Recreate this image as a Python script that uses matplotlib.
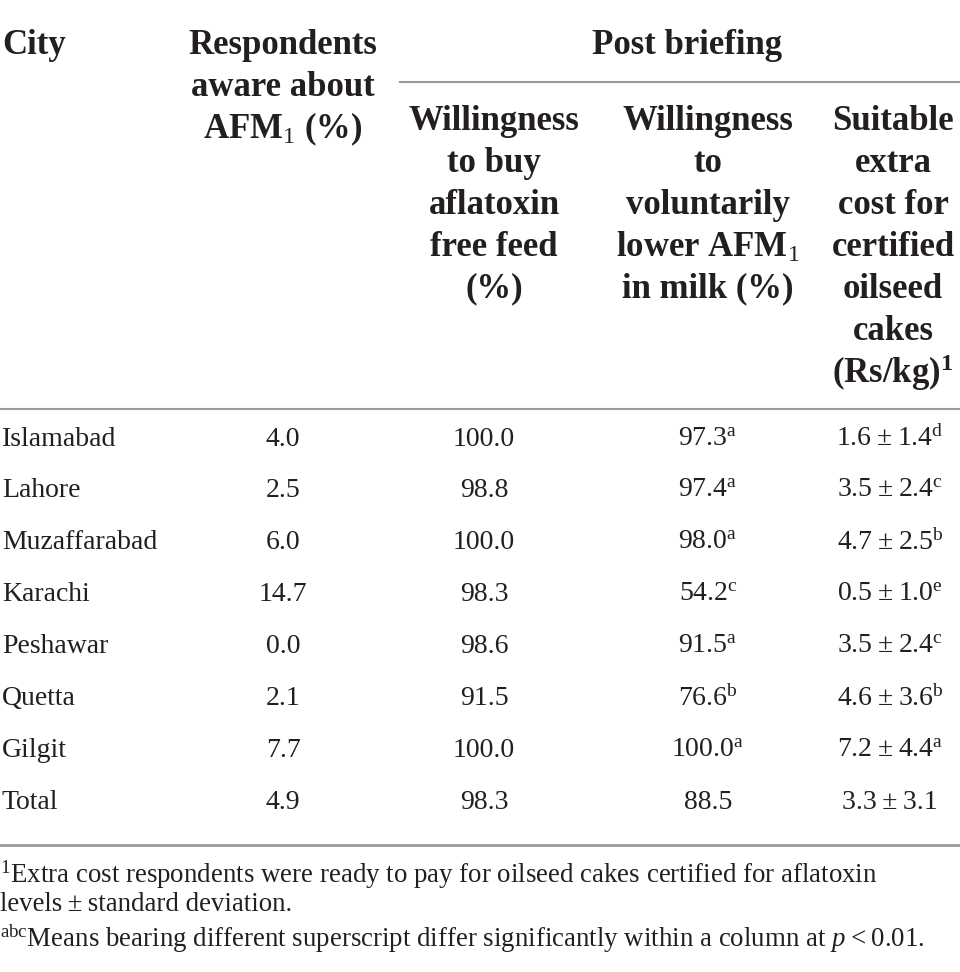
import matplotlib.pyplot as plt

plt.rcParams['font.family'] = ['Liberation Serif', 'DejaVu Serif']
plt.rcParams['mathtext.fontset'] = 'custom'
plt.rcParams['mathtext.rm'] = 'Liberation Serif'
plt.rcParams['mathtext.it'] = 'Liberation Serif:italic'
plt.rcParams['mathtext.bf'] = 'Liberation Serif:bold'

cities = ["Islamabad", "Lahore", "Muzaffarabad", "Karachi", "Peshawar", "Quetta", "Gilgit", "Total"]
aware = [4.0, 2.5, 6.0, 14.7, 0.0, 2.1, 7.7, 4.9]
buy_free = [100.0, 98.8, 100.0, 98.3, 98.6, 91.5, 100.0, 98.3]
lower_afm = [97.3, 97.4, 98.0, 54.2, 91.5, 76.6, 100.0, 88.5]
lower_sup = ["a", "a", "a", "c", "a", "b", "a", ""]
cost_mean = [1.6, 3.5, 4.7, 0.5, 3.5, 4.6, 7.2, 3.3]
cost_sd = [1.4, 2.4, 2.5, 1.0, 2.4, 3.6, 4.4, 3.1]
cost_sup = ["d", "c", "b", "e", "c", "b", "a", ""]

head_aware = ["Respondents", "aware about", r"AFM$_{\mathrm{1}}$ (%)"]
head_buy = ["Willingness", "to buy", "aflatoxin", "free feed", "(%)"]
head_lower = ["Willingness", "to", "voluntarily", r"lower AFM$_{\mathrm{1}}$", "in milk (%)"]
head_cost = ["Suitable", "extra", "cost for", "certified", "oilseed", "cakes", r"(Rs/kg)$^{\mathbf{1}}$"]
notes = [
    r"$^{\mathrm{1}}$Extra cost respondents were ready to pay for oilseed cakes certified for aflatoxin",
    "levels\u2009±\u2009standard deviation.",
    r"$^{\mathrm{abc}}$Means bearing different superscript differ significantly within a column at $\mathit{p}$" + "\u2009<\u20090.01.",
]

fig = plt.figure(figsize=(9.6, 9.72), dpi=100)
ax = fig.add_axes([0, 0, 1, 1])
ax.set_xlim(0, 960)
ax.set_ylim(972, 0)
ax.axis('off')

col_x = [2, 283, 494, 708, 893]
hsize = 25
bsize = 20
hstep = 41.8
tc = '#231f20'


def header(lines, x, y0, ha='center'):
    for k, s in enumerate(lines):
        ax.text(x, y0 + k * hstep, s, ha=ha, va='center', fontsize=hsize,
                fontweight='bold', color=tc)


header(["City"], col_x[0], 46, ha='left')
header(head_aware, col_x[1], 46)
header(["Post briefing"], 687, 46)
header(head_buy, col_x[2], 122)
header(head_lower, col_x[3], 122)
header(head_cost, col_x[4], 122)

ax.plot([400, 960], [82, 82], color='#9a9a9a', lw=1.5)
ax.plot([0, 960], [409, 409], color='#9a9a9a', lw=1.5)
ax.plot([0, 960], [845, 845], color='#9a9a9a', lw=2.0)

for i, c in enumerate(cities):
    y = 439 + i * 51.9
    sup_l = r"$^{\mathrm{%s}}$" % lower_sup[i] if lower_sup[i] else ""
    sup_c = r"$^{\mathrm{%s}}$" % cost_sup[i] if cost_sup[i] else ""
    ax.text(col_x[0], y, c, ha='left', va='center', fontsize=bsize, color=tc)
    ax.text(col_x[1], y, f"{aware[i]:.1f}", ha='center', va='center', fontsize=bsize, color=tc)
    ax.text(col_x[2] - 10, y, f"{buy_free[i]:.1f}", ha='center', va='center', fontsize=bsize, color=tc)
    ax.text(col_x[3], y, f"{lower_afm[i]:.1f}" + sup_l, ha='center', va='center', fontsize=bsize, color=tc)
    ax.text(col_x[4] - 3, y, f"{cost_mean[i]:.1f}\u2009±\u2009{cost_sd[i]:.1f}" + sup_c, ha='center',
            va='center', fontsize=bsize, color=tc)

for k, s in enumerate(notes):
    ax.text(0, [875, 904, 939][k], s, ha='left', va='center', fontsize=bsize * 0.97, color=tc)

fig.savefig('out.png', dpi=100)
